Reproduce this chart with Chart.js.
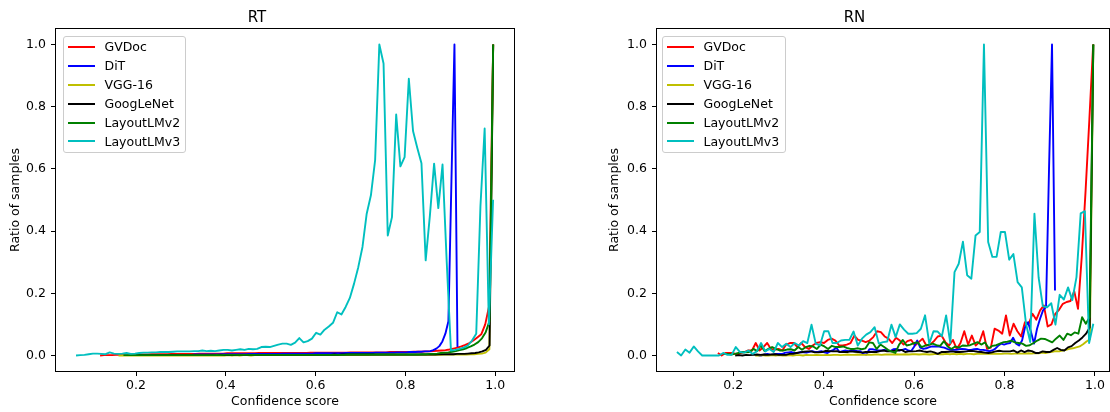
<!DOCTYPE html>
<html><head><meta charset="utf-8">
<script src="https://cdn.jsdelivr.net/npm/chart.js@4.4.1/dist/chart.umd.min.js"></script>
<style>
html,body{margin:0;padding:0;background:#fff;}
#wrap{position:relative;width:1110px;height:412px;overflow:hidden;background:#fff;}
canvas{position:absolute;top:0;}
.legend{position:absolute;box-sizing:border-box;background:rgba(255,255,255,0.8);border:1px solid #cccccc;border-radius:3px;font-family:"DejaVu Sans";font-size:12.5px;color:#000;padding:0.5px 0 2px 0;}
.legend .row{height:18.9px;display:flex;align-items:center;white-space:nowrap;}
.legend .sw{width:27px;height:2px;margin-left:4px;margin-right:9.5px;flex:none;}
</style></head>
<body><div id="wrap">
<canvas id="cL" width="600" height="412" style="left:0;width:600px;height:412px"></canvas>
<canvas id="cR" width="510" height="412" style="left:600px;width:510px;height:412px"></canvas>
<div id="legL" class="legend" style="left:63px;top:36px;width:123px;height:116.5px"></div>
<div id="legR" class="legend" style="left:662px;top:36px;width:124px;height:116.5px"></div>
</div>
<script>
const FONT = '"DejaVu Sans", sans-serif';
const seriesNames = ['GVDoc','DiT','VGG-16','GoogLeNet','LayoutLMv2','LayoutLMv3'];
const seriesColors = ['#ff0000','#0000ff','#bfbf00','#000000','#008000','#00bfbf'];
const xTickValues = [0.2,0.4,0.6,0.8,1.0];
const yTickValues = [0.0,0.2,0.4,0.6,0.8,1.0];

// ---------- RT panel: first / last bin centre of each series, then the 100 bin values ----------
const rtFirstBin = [0.12, 0.25, 0.161, 0.2, 0.172, 0.0664];
const rtLastBin  = [0.9955, 0.916, 0.9955, 0.9955, 0.9955, 0.9953];
const rtGVDoc = [0,0.001,0.001,0.001,0.002,0.002,0.002,0.002,0.003,0.003,
 0.003,0.003,0.003,0.004,0.004,0.004,0.004,0.004,0.005,0.005,
 0.005,0.005,0.005,0.005,0.005,0.006,0.006,0.006,0.006,0.006,
 0.006,0.006,0.007,0.007,0.007,0.007,0.007,0.007,0.007,0.007,
 0.008,0.008,0.008,0.008,0.008,0.008,0.008,0.008,0.008,0.008,
 0.008,0.008,0.008,0.009,0.009,0.009,0.009,0.009,0.009,0.009,
 0.009,0.009,0.009,0.010,0.010,0.010,0.010,0.010,0.010,0.010,
 0.010,0.010,0.010,0.011,0.011,0.011,0.011,0.011,0.011,0.012,
 0.012,0.012,0.013,0.013,0.014,0.015,0.016,0.017,0.019,0.022,
 0.025,0.029,0.034,0.040,0.048,0.058,0.068,0.10,0.16,1.0];
const rtDiT = [0.001,0.001,0.001,0.001,0.002,0.002,0.002,0.002,0.002,0.002,
 0.002,0.002,0.003,0.003,0.003,0.003,0.003,0.003,0.003,0.003,
 0.003,0.004,0.004,0.004,0.004,0.004,0.004,0.004,0.004,0.004,
 0.005,0.005,0.005,0.005,0.005,0.005,0.005,0.005,0.005,0.005,
 0.005,0.006,0.006,0.006,0.006,0.006,0.006,0.006,0.006,0.006,
 0.006,0.006,0.007,0.007,0.007,0.007,0.007,0.007,0.007,0.007,
 0.007,0.007,0.008,0.008,0.008,0.008,0.008,0.008,0.008,0.008,
 0.008,0.008,0.009,0.009,0.009,0.009,0.009,0.009,0.009,0.010,
 0.010,0.010,0.010,0.011,0.011,0.011,0.012,0.012,0.013,0.013,
 0.014,0.017,0.022,0.030,0.045,0.07,0.11,0.56,1.0,0.027];
const rtVGG16 = [0,0,0,0,0,0,0,0,0,0,
 0,0,0,0,0,0,0,0,0,0,
 0,0,0,0,0,0,0,0,0,0.001,
 0,0.001,0,0.001,0.001,0,0.001,0.001,0.001,0.001,
 0.001,0.001,0.001,0.001,0.001,0.001,0.001,0.001,0.001,0.001,
 0.001,0.001,0.001,0.001,0.001,0.001,0.001,0.001,0.001,0.001,
 0.001,0.001,0.001,0.001,0.001,0.002,0.001,0.002,0.002,0.002,
 0.002,0.002,0.002,0.002,0.002,0.002,0.002,0.002,0.002,0.002,
 0.002,0.002,0.002,0.002,0.002,0.002,0.003,0.003,0.003,0.003,
 0.003,0.003,0.003,0.004,0.004,0.005,0.006,0.009,0.02,1.0];
const rtGoogLeNet = [0.001,0.001,0.001,0.001,0.001,0.001,0.001,0.001,0.001,0.001,
 0.001,0.001,0.001,0.001,0.001,0.001,0.001,0.001,0.001,0.001,
 0.001,0.001,0.001,0.002,0.001,0.001,0.002,0.001,0.002,0.002,
 0.002,0.002,0.002,0.002,0.002,0.002,0.002,0.002,0.002,0.002,
 0.002,0.002,0.002,0.002,0.002,0.002,0.002,0.002,0.002,0.002,
 0.002,0.002,0.002,0.002,0.002,0.003,0.002,0.003,0.003,0.003,
 0.003,0.003,0.003,0.003,0.003,0.003,0.003,0.003,0.003,0.003,
 0.003,0.003,0.003,0.003,0.003,0.003,0.003,0.003,0.003,0.003,
 0.003,0.003,0.003,0.003,0.004,0.004,0.004,0.004,0.004,0.005,
 0.005,0.005,0.006,0.007,0.008,0.010,0.013,0.018,0.032,1.0];
const rtLayoutLMv2 = [0.001,0.001,0.001,0.001,0.001,0.001,0.001,0.001,0.001,0.001,
 0.001,0.001,0.001,0.001,0.001,0.001,0.001,0.001,0.001,0.001,
 0.001,0.001,0.001,0.001,0.001,0.002,0.001,0.002,0.002,0.002,
 0.002,0.002,0.002,0.002,0.002,0.002,0.002,0.002,0.002,0.002,
 0.002,0.002,0.002,0.002,0.002,0.002,0.002,0.002,0.002,0.002,
 0.002,0.002,0.002,0.002,0.002,0.002,0.002,0.002,0.002,0.002,
 0.003,0.003,0.003,0.003,0.003,0.003,0.003,0.003,0.003,0.003,
 0.003,0.003,0.003,0.003,0.003,0.003,0.003,0.003,0.003,0.003,
 0.004,0.004,0.005,0.005,0.006,0.008,0.009,0.010,0.012,0.014,
 0.017,0.020,0.024,0.029,0.035,0.043,0.055,0.075,0.11,1.0];
const rtLayoutLMv3 = [0,0.001,0.002,0.004,0.006,0.006,0.005,0.004,0.010,0.006,
 0.005,0.006,0.008,0.005,0.006,0.008,0.009,0.009,0.010,0.010,
 0.011,0.011,0.011,0.012,0.013,0.013,0.013,0.013,0.014,0.014,
 0.016,0.014,0.015,0.014,0.016,0.018,0.018,0.016,0.018,0.020,
 0.018,0.021,0.020,0.021,0.027,0.028,0.027,0.031,0.035,0.038,
 0.038,0.034,0.041,0.056,0.042,0.046,0.054,0.073,0.067,0.083,
 0.093,0.105,0.139,0.132,0.156,0.185,0.231,0.284,0.349,0.456,
 0.515,0.628,1.0,0.939,0.386,0.445,0.775,0.608,0.638,0.89,
 0.722,0.668,0.618,0.306,0.45,0.617,0.474,0.614,0.3,0.016,
 0.018,0.021,0.025,0.032,0.048,0.07,0.48,0.73,0.10,0.501];

// ---------- RN panel ----------
const rnFirstBin = [0.166, 0.256, 0.2486, 0.2044, 0.1786, 0.0755];
const rnLastBin  = [0.996, 0.9116, 0.9963, 0.9963, 0.9963, 0.9963];
const rnGVDoc = [0.008,0,0.008,0.008,0.008,0.002,0.008,0.011,0.016,0.016,
 0.04,0.016,0.027,0.04,0.021,0.018,0.021,0.016,0.035,0.04,
 0.04,0.027,0.04,0.027,0.021,0.032,0.04,0.043,0.04,0.05,
 0.054,0.048,0.032,0.032,0.035,0.04,0.064,0.05,0.048,0.043,
 0.048,0.059,0.078,0.075,0.061,0.054,0.04,0.057,0.048,0.035,
 0.046,0.05,0.032,0.043,0.054,0.032,0.035,0.046,0.061,0.064,
 0.043,0.032,0.05,0.021,0.04,0.078,0.035,0.064,0.032,0.043,
 0.078,0.021,0.025,0.086,0.08,0.07,0.129,0.064,0.102,0.078,
 0.061,0.107,0.102,0.134,0.115,0.145,0.161,0.093,0.1,0.134,
 0.147,0.166,0.172,0.175,0.207,0.15,0.32,0.53,0.76,1.0];
const rnDiT = [0,0,0.003,0.005,0.002,0.003,0.005,0.005,0.005,0.009,
 0.01,0.011,0.008,0.008,0.011,0.01,0.009,0.012,0.014,0.011,
 0.012,0.014,0.01,0.008,0.014,0.018,0.025,0.011,0.014,0.016,
 0.014,0.016,0.016,0.014,0.014,0.005,0.003,0.02,0.02,0.018,
 0.016,0.016,0.018,0.016,0.014,0.02,0.021,0.016,0.018,0.021,
 0.016,0.014,0.029,0.048,0.025,0.021,0.023,0.027,0.029,0.029,
 0.029,0.027,0.025,0.021,0.018,0.018,0.018,0.02,0.021,0.02,
 0.018,0.018,0.02,0.021,0.018,0.018,0.016,0.014,0.016,0.021,
 0.031,0.038,0.035,0.038,0.04,0.057,0.038,0.032,0.048,0.091,
 0.107,0.075,0.038,0.086,0.118,0.145,0.156,0.6,1.0,0.209];
const rnVGG16 = [0,0,0.001,0,0,0.001,0,0.001,0,0,
 0.001,0,0.001,0.001,0,0.002,0.001,0.001,0.002,0.001,
 0.001,0.002,0.001,0.002,0.002,0.001,0.002,0.003,0.002,0.002,
 0.003,0.002,0.002,0.003,0.002,0.003,0.003,0.002,0.003,0.003,
 0.003,0.004,0.003,0.003,0.004,0.003,0.004,0.004,0.003,0.004,
 0.004,0.003,0.004,0.005,0.004,0.004,0.005,0.004,0.005,0.004,
 0.005,0.004,0.005,0.005,0.004,0.005,0.006,0.005,0.005,0.006,
 0.005,0.006,0.005,0.006,0.006,0.005,0.006,0.007,0.006,0.006,
 0.007,0.006,0.008,0.007,0.009,0.008,0.010,0.012,0.014,0.013,
 0.016,0.018,0.021,0.023,0.026,0.029,0.036,0.045,0.052,1.0];
const rnGoogLeNet = [0,0.001,0,0.002,0.001,0.002,0.003,0.002,0.003,0.002,
 0.003,0.004,0.002,0.002,0.002,0.005,0.005,0.008,0.01,0.012,
 0.013,0.013,0.01,0.01,0.011,0.015,0.014,0.013,0.014,0.011,
 0.011,0.011,0.013,0.012,0.011,0.009,0.011,0.011,0.011,0.011,
 0.014,0.016,0.013,0.013,0.015,0.016,0.018,0.011,0.013,0.013,
 0.014,0.016,0.013,0.011,0.013,0.01,0.005,0.011,0.011,0.012,
 0.013,0.011,0.011,0.012,0.013,0.015,0.014,0.012,0.011,0.009,
 0.008,0.01,0.013,0.015,0.013,0.013,0.013,0.016,0.009,0.016,
 0.011,0.016,0.014,0.008,0.008,0.013,0.011,0.011,0.018,0.024,
 0.018,0.016,0.026,0.03,0.04,0.048,0.058,0.07,0.09,1.0];
const rnLayoutLMv2 = [0.005,0.005,0.003,0.005,0.008,0.011,0.01,0.011,0.021,0.014,
 0.032,0.014,0.021,0.027,0.021,0.016,0.016,0.019,0.02,0.016,
 0.027,0.018,0.027,0.031,0.029,0.021,0.035,0.029,0.021,0.031,
 0.027,0.027,0.029,0.024,0.021,0.021,0.023,0.02,0.023,0.042,
 0.04,0.021,0.035,0.027,0.018,0.012,0.008,0.035,0.05,0.032,
 0.035,0.04,0.042,0.027,0.032,0.035,0.038,0.033,0.031,0.046,
 0.029,0.021,0.029,0.025,0.032,0.031,0.033,0.038,0.043,0.035,
 0.042,0.023,0.031,0.033,0.038,0.043,0.044,0.048,0.042,0.04,
 0.038,0.031,0.033,0.04,0.048,0.054,0.053,0.048,0.042,0.054,
 0.064,0.05,0.07,0.065,0.074,0.07,0.123,0.102,0.123,1.0];
const rnLayoutLMv3 = [0.011,0,0.019,0.009,0.029,0.013,0,0,0,0,
 0,0.008,0.002,0.002,0.027,0.011,0.009,0.016,0.005,0.013,
 0.04,0.013,0.021,0.011,0.04,0.027,0.038,0.027,0.04,0.032,
 0.046,0.04,0.099,0.038,0.032,0.078,0.078,0.04,0.04,0.048,
 0.05,0.05,0.077,0.032,0.054,0.067,0.075,0.091,0.038,0.043,
 0.045,0.099,0.059,0.1,0.083,0.07,0.07,0.072,0.086,0.129,
 0.038,0.078,0.077,0.062,0.129,0.04,0.268,0.295,0.366,0.258,
 0.247,0.386,0.397,1.0,0.365,0.317,0.317,0.397,0.397,0.308,
 0.326,0.236,0.219,0.102,0.043,0.456,0.25,0.158,0.155,0.168,
 0.099,0.195,0.18,0.219,0.178,0.252,0.457,0.464,0.04,0.102];

const rtValues = [rtGVDoc, rtDiT, rtVGG16, rtGoogLeNet, rtLayoutLMv2, rtLayoutLMv3];
const rnValues = [rnGVDoc, rnDiT, rnVGG16, rnGoogLeNet, rnLayoutLMv2, rnLayoutLMv3];

function buildDatasets(values, first, last) {
  return values.map((vals, k) => {
    const n = vals.length;
    // bin centres: evenly spaced between the first and last bin of this series
    const data = vals.map((v, i) => ({x: first[k] + (last[k] - first[k]) * i / (n - 1), y: v}));
    return {
      label: seriesNames[k], data, borderColor: seriesColors[k], backgroundColor: seriesColors[k],
      borderWidth: 1.9, pointRadius: 0, tension: 0, fill: false, order: seriesNames.length - k,
      borderJoinStyle: 'round', borderCapStyle: 'butt'
    };
  });
}

const framePlugin = {
  id: 'frame',
  afterDraw(chart) {
    const a = chart.chartArea, ctx = chart.ctx;
    ctx.save();
    ctx.strokeStyle = '#000'; ctx.lineWidth = 1;
    ctx.strokeRect(Math.round(a.left) - 0.5, Math.round(a.top) - 0.5,
                   Math.round(a.right - a.left) + 1, Math.round(a.bottom - a.top) + 1);
    ctx.restore();
  }
};

function makeChart(id, title, datasets, xMin, xMax, yAxisW, rightPad, yTitlePad) {
  const tickFont = {family: FONT, size: 12.5};
  return new Chart(document.getElementById(id), {
    type: 'line',
    data: {datasets},
    plugins: [framePlugin],
    options: {
      responsive: false, animation: false, devicePixelRatio: 1,
      layout: {padding: {left: 0, right: rightPad, top: 0, bottom: 0}},
      plugins: {
        legend: {display: false}, tooltip: {enabled: false},
        title: {display: true, text: title, color: '#000', font: {family: FONT, size: 15, weight: 'normal', lineHeight: 1.2}, padding: {top: 9, bottom: 2}}
      },
      scales: {
        x: {
          type: 'linear', min: xMin, max: xMax,
          afterBuildTicks: s => { s.ticks = xTickValues.map(v => ({value: v})); },
          afterFit: s => { s.height = 41; },
          grid: {drawOnChartArea: false, drawTicks: true, tickLength: 5, color: '#000', tickColor: '#000', tickWidth: 1},
          border: {display: false},
          ticks: {color: '#000', font: tickFont, padding: 2, maxRotation: 0, autoSkip: false, callback: v => Number(v).toFixed(1)},
          title: {display: true, text: 'Confidence score', color: '#000', font: {family: FONT, size: 12.5, lineHeight: 1.2}, padding: {top: 0, bottom: 2.5}}
        },
        y: {
          type: 'linear', min: -0.05, max: 1.05,
          afterBuildTicks: s => { s.ticks = yTickValues.map(v => ({value: v})); },
          afterFit: s => { s.width = yAxisW; },
          grid: {drawOnChartArea: false, drawTicks: true, tickLength: 5, color: '#000', tickColor: '#000', tickWidth: 1},
          border: {display: false},
          ticks: {color: '#000', font: tickFont, padding: 5, autoSkip: false, callback: v => Number(v).toFixed(1)},
          title: {display: true, text: 'Ratio of samples', color: '#000', font: {family: FONT, size: 12.5, lineHeight: 1.2}, padding: {top: yTitlePad, bottom: 0}}
        }
      }
    }
  });
}

makeChart('cL', 'RT', buildDatasets(rtValues, rtFirstBin, rtLastBin), 0.0218, 1.0419, 56, 600 - 514, 8.5);
makeChart('cR', 'RN', buildDatasets(rnValues, rnFirstBin, rnLastBin), 0.0314, 1.031, 57, 510 - 509, 7.5);

function buildLegend(elId) {
  const el = document.getElementById(elId);
  seriesNames.forEach((name, k) => {
    const row = document.createElement('div'); row.className = 'row';
    const sw = document.createElement('span'); sw.className = 'sw'; sw.style.background = seriesColors[k];
    const tx = document.createElement('span'); tx.textContent = name;
    row.appendChild(sw); row.appendChild(tx); el.appendChild(row);
  });
}
buildLegend('legL'); buildLegend('legR');
</script>
</body></html>
